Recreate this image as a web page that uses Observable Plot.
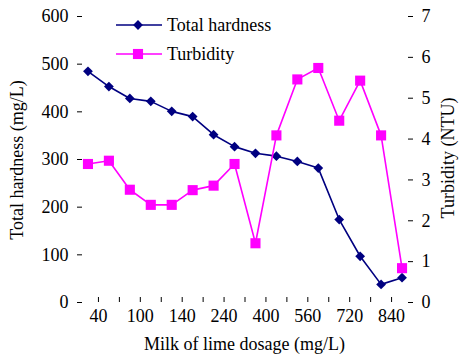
<!DOCTYPE html>
<html><head><meta charset="utf-8">
<script src="https://cdn.jsdelivr.net/npm/d3@7"></script>
<script src="https://cdn.jsdelivr.net/npm/@observablehq/plot@0.6"></script>
<style>
body{margin:0;background:#fff}
#chart{position:relative;width:459px;height:359px}
#chart svg{position:absolute;left:0;top:0}
</style>
</head><body><div id="chart"></div>
<script>
const dosageLabels = ["40","100","140","240","400","560","720","840"];
const hardness = [485,453,428,422,401,390,352,327,313,307,296,282,174,97,38,52];
const turbidity = [3.39,3.47,2.76,2.39,2.39,2.75,2.86,3.39,1.45,4.09,5.46,5.74,4.45,5.43,4.09,0.84];
const leftTicks = [0,100,200,300,400,500,600];
const rightTicks = [0,1,2,3,4,5,6,7];
const leftMax = 600, rightMax = 7;
const seriesNames = ["Total hardness","Turbidity"];
const xTitle = "Milk of lime dosage (mg/L)";
const yLeftTitle = "Total hardness (mg/L)";
const yRightTitle = "Turbidity (NTU)";
const colors = ["#000080","#ff00ff"];
const font = "'Liberation Serif','Times New Roman',serif";

const k = leftMax / rightMax;
const idx = d3.range(hardness.length);
const xp = i => i + 0.5;

const plot = Plot.plot({
  width: 459, height: 359,
  marginLeft: 77, marginRight: 47, marginTop: 16, marginBottom: 57,
  style: {fontFamily: font, fontSize: "18px", color: "#000", background: "#fff", overflow: "visible"},
  x: {domain: [0, hardness.length]},
  y: {domain: [0, leftMax]},
  marks: [
    Plot.axisY(leftTicks, {anchor: "left", tickSize: -5, tickPadding: 14, line: true, label: null}),
    Plot.axisY(rightTicks.map(v => v * k), {anchor: "right", tickSize: -5, tickPadding: 14, line: true, label: null,
      tickFormat: v => String(Math.round(v / k))}),
    Plot.axisX(d3.range(1, hardness.length), {anchor: "bottom", tickSize: -5, tickPadding: 12, line: true, label: null,
      tickFormat: b => b % 2 === 1 ? dosageLabels[(b - 1) / 2] : ""}),
    Plot.line(idx, {x: xp, y: i => hardness[i], stroke: colors[0], strokeWidth: 1.6}),
    Plot.dot(idx, {x: xp, y: i => hardness[i], symbol: "diamond2", r: 4.4, fill: colors[0], stroke: "none"}),
    Plot.line(idx, {x: xp, y: i => turbidity[i] * k, stroke: colors[1], strokeWidth: 1.6}),
    Plot.dot(idx, {x: xp, y: i => turbidity[i] * k, symbol: "square", r: 5.7, fill: colors[1], stroke: "none"})
  ]
});
const chart = document.getElementById("chart");
chart.appendChild(plot);

// titles and legend overlay
const ov = d3.select(chart).append("svg").attr("width", 459).attr("height", 359)
  .style("pointer-events", "none").attr("font-family", font).attr("font-size", 18).attr("fill", "#000");
ov.append("text").attr("transform", "translate(23,160) rotate(-90)").attr("text-anchor", "middle").text(yLeftTitle);
ov.append("text").attr("transform", "translate(454,158) rotate(-90)").attr("text-anchor", "middle").text(yRightTitle);
ov.append("text").attr("x", 244.5).attr("y", 350).attr("text-anchor", "middle").text(xTitle);

const legY = [25, 54];
const shapes = [d3.symbolDiamond2, d3.symbolSquare];
const sizes = [Math.PI * 4.4 * 4.4, Math.PI * 5.7 * 5.7];
seriesNames.forEach((name, j) => {
  const g = ov.append("g").attr("transform", `translate(0,${legY[j]})`);
  g.append("line").attr("x1", 116).attr("x2", 162).attr("stroke", colors[j]).attr("stroke-width", 1.6);
  g.append("path").attr("transform", "translate(138,0)").attr("d", d3.symbol(shapes[j], sizes[j])()).attr("fill", colors[j]);
  g.append("text").attr("x", 167).attr("dy", "0.32em").text(name);
});
</script>
</body></html>
